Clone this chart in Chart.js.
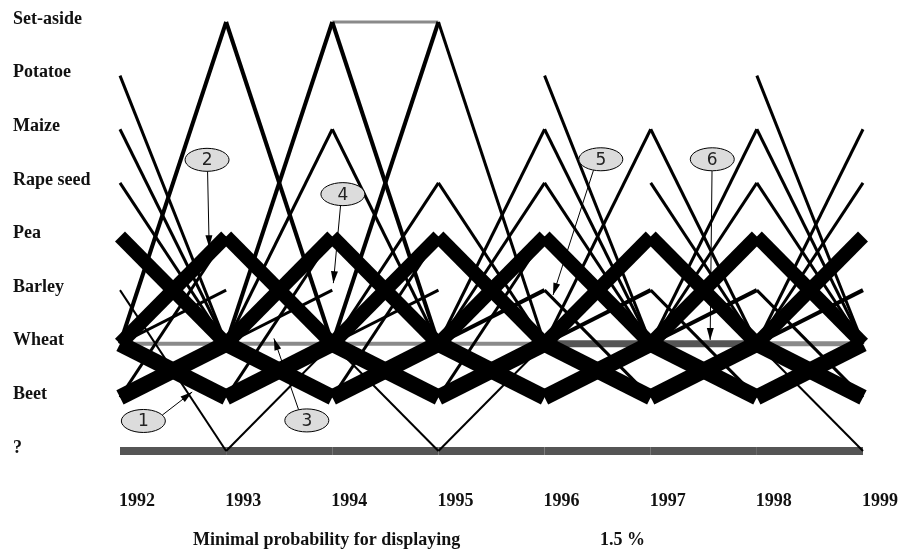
<!DOCTYPE html>
<html>
<head>
<meta charset="utf-8">
<script src="https://cdn.jsdelivr.net/npm/chart.js@4/dist/chart.umd.min.js"></script>
<style>
  html, body { margin: 0; padding: 0; background: #fff; }
  #wrap { width: 899px; height: 550px; position: relative; }
</style>
</head>
<body>
<div id="wrap"><canvas id="chart"></canvas></div>
<script>
const years = [1992, 1993, 1994, 1995, 1996, 1997, 1998, 1999];
const crops = ['Set-aside', 'Potatoe', 'Maize', 'Rape seed', 'Pea', 'Barley', 'Wheat', 'Beet', '?'];
const minProbability = 1.5;

// transitions from one year to the next: [from, to, probability %]
const step1992 = [
  ['Wheat', 'Wheat', 10], ['?', '?', 20],
  ['Potatoe', 'Wheat', 7.5], ['Maize', 'Wheat', 7.5], ['Rape seed', 'Wheat', 7.5],
  ['Barley', '?', 5], ['Beet', 'Pea', 7.5],
  ['Wheat', 'Set-aside', 10], ['Wheat', 'Barley', 7.5],
  ['Pea', 'Wheat', 35], ['Wheat', 'Pea', 35], ['Wheat', 'Beet', 40], ['Beet', 'Wheat', 40],
];
const step1993 = [
  ['Wheat', 'Wheat', 10], ['?', '?', 20],
  ['Set-aside', 'Wheat', 10], ['Wheat', 'Set-aside', 10], ['Wheat', 'Maize', 7.5],
  ['Wheat', 'Barley', 7.5], ['?', 'Wheat', 5], ['Beet', 'Pea', 7.5],
  ['Pea', 'Wheat', 35], ['Wheat', 'Pea', 35], ['Wheat', 'Beet', 40], ['Beet', 'Wheat', 40],
];
const step1994 = [
  ['Wheat', 'Wheat', 10], ['?', '?', 20], ['Set-aside', 'Set-aside', 7.5],
  ['Set-aside', 'Wheat', 10], ['Wheat', 'Set-aside', 10], ['Maize', 'Wheat', 7.5],
  ['Wheat', 'Rape seed', 7.5], ['Wheat', 'Barley', 7.5], ['Wheat', '?', 5], ['Beet', 'Pea', 7.5],
  ['Pea', 'Wheat', 35], ['Wheat', 'Pea', 35], ['Wheat', 'Beet', 40], ['Beet', 'Wheat', 40],
];
const step1995 = [
  ['Wheat', 'Wheat', 10], ['?', '?', 20],
  ['Set-aside', 'Wheat', 7.5], ['Rape seed', 'Wheat', 7.5], ['Wheat', 'Maize', 7.5],
  ['Wheat', 'Rape seed', 7.5], ['Wheat', 'Barley', 10], ['?', 'Wheat', 5], ['Beet', 'Pea', 7.5],
  ['Pea', 'Wheat', 35], ['Wheat', 'Pea', 35], ['Wheat', 'Beet', 40], ['Beet', 'Wheat', 40],
];
const step1996 = [
  ['Wheat', 'Wheat', 17.5], ['?', '?', 20],
  ['Potatoe', 'Wheat', 7.5], ['Maize', 'Wheat', 7.5], ['Rape seed', 'Wheat', 7.5],
  ['Barley', 'Beet', 7.5], ['Wheat', 'Maize', 7.5], ['Wheat', 'Barley', 10],
  ['Pea', 'Wheat', 35], ['Wheat', 'Pea', 35], ['Wheat', 'Beet', 40], ['Beet', 'Wheat', 40],
];
const step1997 = [
  ['Wheat', 'Wheat', 17.5], ['?', '?', 20],
  ['Maize', 'Wheat', 7.5], ['Rape seed', 'Wheat', 7.5], ['Barley', 'Beet', 7.5],
  ['Wheat', 'Maize', 7.5], ['Wheat', 'Rape seed', 7.5], ['Wheat', 'Barley', 10],
  ['Pea', 'Wheat', 35], ['Wheat', 'Pea', 35], ['Wheat', 'Beet', 40], ['Beet', 'Wheat', 40],
];
const step1998 = [
  ['Wheat', 'Wheat', 12.5], ['?', '?', 20],
  ['Potatoe', 'Wheat', 7.5], ['Maize', 'Wheat', 7.5], ['Rape seed', 'Wheat', 7.5],
  ['Barley', 'Beet', 7.5], ['Wheat', '?', 5],
  ['Wheat', 'Maize', 7.5], ['Wheat', 'Rape seed', 7.5], ['Wheat', 'Barley', 10],
  ['Pea', 'Wheat', 35], ['Wheat', 'Pea', 35], ['Wheat', 'Beet', 40], ['Beet', 'Wheat', 40],
];
const steps = [step1992, step1993, step1994, step1995, step1996, step1997, step1998];

// numbered callouts: ellipse centre and arrow tip, in (year, crop level)
const callouts = [
  { label: '1', at: [1992.22, 7.44], tip: [1992.68, 6.90] },
  { label: '2', at: [1992.82, 2.57], tip: [1992.84, 4.20] },
  { label: '3', at: [1993.76, 7.43], tip: [1993.45, 5.90] },
  { label: '4', at: [1994.10, 3.21], tip: [1994.01, 4.87] },
  { label: '5', at: [1996.53, 2.56], tip: [1996.08, 5.09] },
  { label: '6', at: [1997.58, 2.56], tip: [1997.56, 5.93] },
];

const PX_PER_PERCENT = 0.4;
const labelFont = { family: 'Liberation Serif', size: 18, weight: 'bold' };

// self transitions are grey, the heavier ones darker
function lineColor(from, to, p) {
  if (from !== to) return '#000';
  return p >= 15 ? '#555' : '#8a8a8a';
}

const datasets = [];
steps.forEach((step, i) => {
  step.forEach(([from, to, p]) => {
    datasets.push({
      data: [
        { x: years[i], y: crops.indexOf(from) },
        { x: years[i + 1], y: crops.indexOf(to) },
      ],
      borderColor: lineColor(from, to, p),
      borderWidth: p * PX_PER_PERCENT,
      order: from === to ? 1 : 0,
      pointRadius: 0,
      tension: 0,
      clip: false,
    });
  });
});

const calloutPlugin = {
  id: 'callouts',
  afterDatasetsDraw(chart) {
    const { ctx, scales: { x, y } } = chart;
    ctx.save();
    callouts.forEach(c => {
      const cx = x.getPixelForValue(c.at[0]);
      const cy = y.getPixelForValue(c.at[1]);
      const tx = x.getPixelForValue(c.tip[0]);
      const ty = y.getPixelForValue(c.tip[1]);
      const rx = 22, ry = 11.5;
      // arrow starts on the ellipse rim
      const ang = Math.atan2(ty - cy, tx - cx);
      const sx = cx + rx * Math.cos(ang), sy = cy + ry * Math.sin(ang);
      ctx.strokeStyle = '#000';
      ctx.lineWidth = 1;
      ctx.beginPath();
      ctx.moveTo(sx, sy);
      ctx.lineTo(tx, ty);
      ctx.stroke();
      const ha = Math.atan2(ty - sy, tx - sx);
      ctx.fillStyle = '#000';
      ctx.beginPath();
      ctx.moveTo(tx, ty);
      ctx.lineTo(tx - 12 * Math.cos(ha) + 3.5 * Math.sin(ha), ty - 12 * Math.sin(ha) - 3.5 * Math.cos(ha));
      ctx.lineTo(tx - 12 * Math.cos(ha) - 3.5 * Math.sin(ha), ty - 12 * Math.sin(ha) + 3.5 * Math.cos(ha));
      ctx.closePath();
      ctx.fill();

      ctx.beginPath();
      ctx.ellipse(cx, cy, rx, ry, 0, 0, Math.PI * 2);
      ctx.fillStyle = '#dcdcdc';
      ctx.fill();
      ctx.stroke();
      ctx.fillStyle = '#222';
      ctx.font = '17px "DejaVu Sans"';
      ctx.textAlign = 'center';
      ctx.textBaseline = 'middle';
      ctx.fillText(c.label, cx, cy + 1);
    });
    ctx.restore();
  },
};

const footerPlugin = {
  id: 'footer',
  afterDraw(chart) {
    const { ctx } = chart;
    ctx.save();
    ctx.fillStyle = '#111';
    ctx.font = 'bold 18px "Liberation Serif"';
    ctx.textBaseline = 'alphabetic';
    ctx.fillText('Minimal probability for displaying', 193, 545);
    ctx.fillText(minProbability + ' %', 600, 545);
    ctx.restore();
  },
};

// keep the plot edges where the layout padding puts them
function noEdgePadding(scale) {
  scale.paddingLeft = 0;
  scale.paddingRight = 0;
  scale.paddingTop = 0;
  scale.paddingBottom = 0;
}

new Chart(document.getElementById('chart'), {
  type: 'line',
  data: { datasets },
  options: {
    responsive: true,
    maintainAspectRatio: false,
    animation: false,
    events: [],
    layout: { padding: { left: 13, top: 22, right: 36, bottom: 0 } },
    plugins: { legend: { display: false }, tooltip: { enabled: false } },
    scales: {
      x: {
        type: 'linear',
        min: years[0],
        max: years[years.length - 1],
        grid: { display: false },
        border: { display: false },
        afterFit: scale => { scale.height = 99; noEdgePadding(scale); },
        ticks: {
          stepSize: 1,
          autoSkip: false,
          maxRotation: 0,
          labelOffset: 17,
          padding: 32,
          color: '#111',
          font: labelFont,
          callback: v => String(v),
        },
      },
      y: {
        type: 'linear',
        reverse: true,
        min: 0,
        max: crops.length - 1,
        grid: { display: false },
        border: { display: false },
        afterFit: scale => { scale.width = 107; noEdgePadding(scale); },
        ticks: {
          stepSize: 1,
          autoSkip: false,
          crossAlign: 'far',
          labelOffset: -3,
          color: '#111',
          font: labelFont,
          callback: v => crops[v],
        },
      },
    },
  },
  plugins: [calloutPlugin, footerPlugin],
});
</script>
</body>
</html>
